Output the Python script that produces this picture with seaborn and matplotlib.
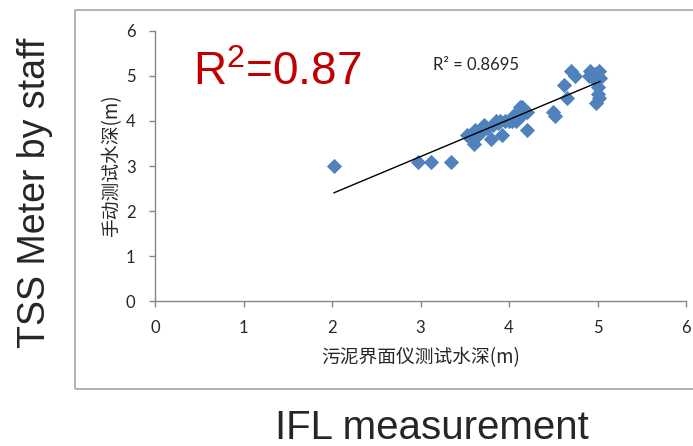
import numpy as np
import pandas as pd
import matplotlib
matplotlib.use("Agg")
import matplotlib.pyplot as plt
import seaborn as sns
from matplotlib.patches import Rectangle

# data
ifl_depth = [2.02, 2.97, 3.12, 3.35,
             3.53, 3.57, 3.60, 3.62, 3.65, 3.68, 3.72, 3.75, 3.80, 3.82,
             3.85, 3.88, 3.90, 3.92, 3.95, 4.00, 4.03, 4.05, 4.08, 4.10,
             4.12, 4.13, 4.15, 4.17, 4.20, 4.20,
             4.50, 4.52, 4.62, 4.65, 4.70, 4.75,
             4.90, 4.92, 4.95, 4.97, 5.00, 5.02, 4.98, 5.00, 4.98, 5.02, 5.00, 5.03]
staff_depth = [3.00, 3.10, 3.10, 3.10,
               3.70, 3.60, 3.50, 3.80, 3.70, 3.75, 3.90, 3.85, 3.60, 3.90,
               4.00, 3.95, 4.00, 3.70, 4.00, 4.00, 4.00, 4.10, 4.00, 4.20,
               4.30, 4.10, 4.30, 4.25, 4.20, 3.80,
               4.20, 4.10, 4.80, 4.50, 5.10, 5.00,
               5.00, 5.10, 4.95, 5.05, 5.00, 5.10, 4.90, 4.75, 4.40, 4.50, 4.60, 4.95]
ticks = [0, 1, 2, 3, 4, 5, 6]

df = pd.DataFrame({"ifl": ifl_depth, "staff": staff_depth})

sns.set_style("white")
plt.rcParams["font.family"] = ["Lato", "Noto Sans CJK SC", "DejaVu Sans"]
plt.rcParams["mathtext.default"] = "regular"

fig = plt.figure(figsize=(6.93, 4.46), dpi=100)
ax = fig.add_axes([0.2237, 0.3251, 0.7662, 0.6054])

sns.scatterplot(data=df, x="ifl", y="staff", marker="D", s=60,
                color="#4F81BD", linewidth=0, ax=ax)
sns.regplot(data=df, x="ifl", y="staff", scatter=False, ci=None, truncate=True,
            line_kws={"color": "black", "linewidth": 1}, ax=ax)

ax.set_xlim(0, 6)
ax.set_ylim(0, 6)
ax.set_xticks(ticks)
ax.set_yticks(ticks)
ax.tick_params(bottom=True, left=True, direction="out", length=4,
               width=1, color="#868686", labelsize=12)
ax.tick_params(axis="x", pad=10)
ax.tick_params(axis="y", pad=10)
for s in ["top", "right"]:
    ax.spines[s].set_visible(False)
for s in ["left", "bottom"]:
    ax.spines[s].set_color("#868686")
    ax.spines[s].set_linewidth(1)

ax.set_xlabel("污泥界面仪测试水深(m)", fontsize=13.5,
              family=["Noto Sans CJK SC", "DejaVu Sans"], labelpad=8)
ax.set_ylabel("手动测试水深(m)", fontsize=13.5,
              family=["Noto Sans CJK SC", "DejaVu Sans"], labelpad=3)

ax.text(3.14, 5.24, "R² = 0.8695", fontsize=12, va="center", ha="left")
ax.text(0.43, 4.8, r"R$^{2}$=0.87", fontsize=33, color="#C00000",
        family="Liberation Sans", va="baseline", ha="left")

# outer frame
fig.patches.append(Rectangle((75 / 693, 1 - 389 / 446), 0.95, 379 / 446,
                             transform=fig.transFigure, fill=False,
                             edgecolor="#A6A6A6", linewidth=1.2))

fig.text(0.05, 0.567, "TSS Meter by staff", rotation=90, fontsize=27,
         family="Liberation Sans", ha="center", va="center")
fig.text(0.623, 0.04, "IFL measurement", fontsize=29,
         family="Liberation Sans", ha="center", va="center")

fig.savefig("out.png", dpi=100)
